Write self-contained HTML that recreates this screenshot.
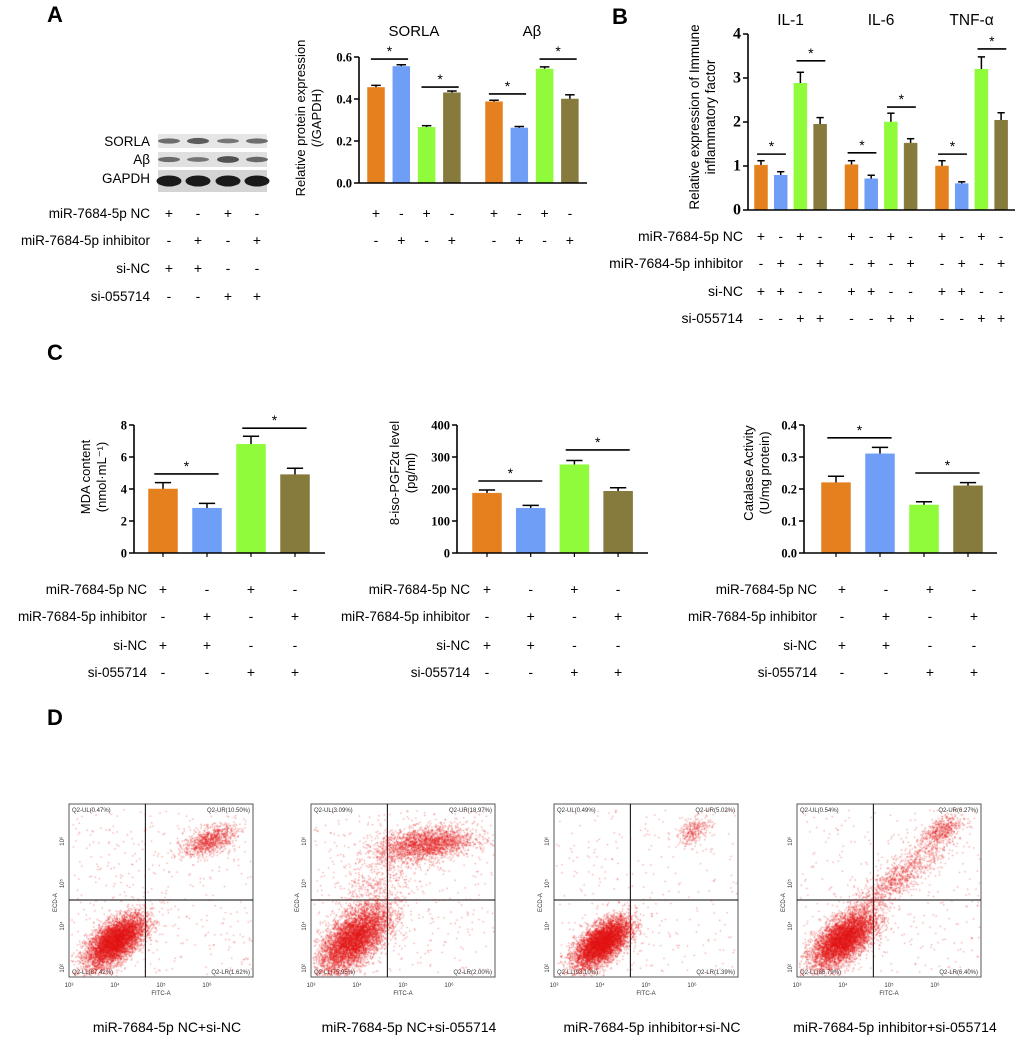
<!DOCTYPE html>
<html><head><meta charset="utf-8">
<style>
body{margin:0;background:#fff;}
#wrap{position:relative;width:1020px;height:1039px;overflow:hidden;font-family:"Liberation Sans",Arial,sans-serif;}
svg{position:absolute;left:0;top:0;}
canvas{position:absolute;}
</style></head>
<body>
<div id="wrap">
<svg id="s" width="1020" height="1039"></svg>
</div>
<script>
// ---------- DATA ----------
const COLORS=['#e5801f','#6f9ef7','#8ffb3b','#867a3d'];
const rowLabels=['miR-7684-5p NC','miR-7684-5p inhibitor','si-NC','si-055714'];
const signRows=[['+','-','+','-'],['-','+','-','+'],['+','+','-','-'],['-','-','+','+']];

const aCats=['SORLA','Aβ'];
const aVals=[[0.455,0.555,0.265,0.43],[0.387,0.262,0.543,0.40]];
const aErr=[[0.01,0.008,0.008,0.008],[0.007,0.007,0.01,0.02]];
const aTicks=[0,0.2,0.4,0.6];
const aTickLabels=['0.0','0.2','0.4','0.6'];
const aBrackets=[[0.59,0.457],[0.424,0.59]];

const bCats=['IL-1','IL-6','TNF-α'];
const bVals=[[1.02,0.79,2.88,1.95],[1.03,0.71,2.0,1.52],[1.0,0.6,3.2,2.04]];
const bErr=[[0.1,0.08,0.25,0.15],[0.09,0.08,0.2,0.1],[0.12,0.04,0.28,0.17]];
const bTicks=[0,1,2,3,4];
const bTickLabels=['0','1','2','3','4'];
const bBrackets=[[1.27,3.39],[1.30,2.34],[1.27,3.66]];

const c1Vals=[4.0,2.8,6.8,4.9];
const c1Err=[0.4,0.3,0.5,0.4];
const c1Ticks=[0,2,4,6,8];
const c1Brackets=[4.94,7.8];
const c2Vals=[187,140,276,193];
const c2Err=[10,9,13,11];
const c2Ticks=[0,100,200,300,400];
const c2Brackets=[225,322];
const c3Vals=[0.22,0.31,0.15,0.21];
const c3Err=[0.02,0.02,0.01,0.01];
const c3Ticks=[0,0.1,0.2,0.3,0.4];
const c3TickLabels=['0.0','0.1','0.2','0.3','0.4'];
const c3Brackets=[0.36,0.25];

const dCaptions=['miR-7684-5p  NC+si-NC','miR-7684-5p  NC+si-055714','miR-7684-5p  inhibitor+si-NC','miR-7684-5p  inhibitor+si-055714'];
const dUL=['Q2-UL(0.47%)','Q2-UL(3.09%)','Q2-UL(0.49%)','Q2-UL(0.54%)'];
const dUR=['Q2-UR(10.50%)','Q2-UR(18.97%)','Q2-UR(5.02%)','Q2-UR(6.27%)'];
const dLL=['Q2-LL(87.42%)','Q2-LL(75.95%)','Q2-LL(93.10%)','Q2-LL(86.79%)'];
const dLR=['Q2-LR(1.62%)','Q2-LR(2.00%)','Q2-LR(1.39%)','Q2-LR(6.40%)'];
// clusters: [cx, cy, sx, sy, corr, n] in relative box coords
const dClusters=[
 [[0.25,0.79,0.08,0.075,0.6,5500],[0.76,0.21,0.07,0.045,0.5,900],[0.5,0.5,0.3,0.3,0,400]],
 [[0.23,0.78,0.095,0.095,0.6,5200],[0.62,0.23,0.13,0.05,0.3,2200],[0.35,0.5,0.12,0.15,0.6,600],[0.5,0.5,0.3,0.3,0,450]],
 [[0.26,0.8,0.075,0.07,0.6,5800],[0.76,0.15,0.045,0.04,0.5,280],[0.5,0.5,0.3,0.3,0,300]],
 [[0.25,0.78,0.085,0.08,0.6,5400],[0.55,0.42,0.15,0.13,0.9,1100],[0.78,0.15,0.055,0.045,0.5,450],[0.5,0.5,0.3,0.3,0,350]]
];

// ---------- HELPERS ----------
const S=document.getElementById('s');
const NS='http://www.w3.org/2000/svg';
function mk(tag,attrs,name,inter,txt){
  const el=document.createElementNS(NS,tag);
  for(const k in attrs) el.setAttribute(k,attrs[k]);
  
  
  if(txt!==undefined) el.textContent=txt;
  S.appendChild(el);
  return el;
}
function text(x,y,t,name,size,anchor,extra){
  const a=Object.assign({x:x,y:y,'font-size':size,'text-anchor':anchor||'middle','font-family':'"Liberation Sans",Arial,sans-serif',fill:'#000'},extra||{});
  return mk('text',a,name,false,t);
}
function line(x1,y1,x2,y2,name,w){
  return mk('line',{x1:x1,y1:y1,x2:x2,y2:y2,stroke:'#000','stroke-width':w||1.5},name,false);
}

function barChart(c){
  const ys=v=>c.y0-(v/c.ymax)*(c.y0-c.ytop);
  const cx=(g,i)=>c.gStart+g*c.gStep+i*c.bStep;
  c.vals.forEach((grp,g)=>grp.forEach((v,i)=>{
    const x=cx(g,i);
    const top=ys(v+c.err[g][i]);
    line(x,ys(v),x,top,c.id+'-errorbar',1.5);
    line(x-c.bw*0.28,top,x+c.bw*0.28,top,c.id+'-errorcap',1.5);
    mk('rect',{x:x-c.bw/2,y:ys(v),width:c.bw,height:c.y0-ys(v),fill:COLORS[i],stroke:COLORS[i],'stroke-width':0.5},c.id+'-bar-'+g+'-'+i,false);
    if(c.xticks) line(x,c.y0,x,c.y0+4,c.id+'-x-tick',1.2);
  }));
  line(c.x0,c.y0,c.x1,c.y0,c.id+'-x-axis',1.6);
  line(c.x0,c.y0,c.x0,c.ytop,c.id+'-y-axis',1.6);
  c.ticks.forEach((t,k)=>{
    const y=ys(t);
    line(c.x0-5,y,c.x0,y,c.id+'-y-tick',1.5);
    text(c.x0-7,y+4.5,c.tickLabels[k],c.id+'-y-tick-label',c.tfs||13,'end',{'font-family':'"Liberation Serif",serif','font-weight':'bold'});
  });
  c.brackets.forEach((grp,g)=>grp.forEach((lv,p)=>{
    const xa=cx(g,p*2)-c.bw*0.3, xb=cx(g,p*2+1)+c.bw*0.4;
    const y=ys(lv);
    line(xa,y,xb,y,c.id+'-sig-bracket',1.6);
    text((xa+xb)/2,y-3,'*',c.id+'-sig-star',14,'middle');
  }));
  if(c.cats) c.cats.forEach((t,g)=>text((cx(g,0)+cx(g,3))/2,c.titleY,t,c.id+'-group-title',c.cfs||15,'middle'));
  c.signYs.forEach((yy,r)=>{
    c.vals.forEach((grp,g)=>grp.forEach((v,i)=>{
      text(cx(g,i)+(c.signDx||0),yy,signRows[r][i],c.id+'-sign',c.sfs||14,'middle');
    }));
  });
  if(c.rowX!==undefined) c.signYs.forEach((yy,r)=>text(c.rowX,yy,rowLabels[r],c.id+'-row-label',c.rfs||13.5,'end'));
  c.ylab.forEach((t,k)=>text(0,0,t,c.id+'-y-axis-title',c.yfs||13.5,'middle',{transform:'translate('+(c.ylabX+k*16)+','+c.ylabY+') rotate(-90)'}));
}

// ---------- PANEL LETTERS ----------
text(55,22,'A','panel-label-a',22,'middle',{'font-weight':'bold'});
text(620,24,'B','panel-label-b',22,'middle',{'font-weight':'bold'});
text(55,360,'C','panel-label-c',22,'middle',{'font-weight':'bold'});
text(55,725,'D','panel-label-d',22,'middle',{'font-weight':'bold'});

// ---------- WESTERN BLOT ----------
mk('rect',{x:158,y:134,width:109,height:14,fill:'#e6e6e6'},'blot-sorla-strip',false);
mk('rect',{x:158,y:152,width:109,height:15,fill:'#e0e0e0'},'blot-abeta-strip',false);
mk('rect',{x:158,y:170,width:109,height:22,fill:'#d4d4d4'},'blot-gapdh-strip',false);
const blotX=[169,198,228,257];
const sorlaI=[0.55,0.75,0.45,0.55], abI=[0.55,0.45,0.85,0.6];
blotX.forEach((x,i)=>{
  mk('ellipse',{cx:x,cy:141,rx:11,ry:2.5*sorlaI[i]+1.2,fill:'#333','fill-opacity':0.4+sorlaI[i]*0.5},'blot-band-sorla',false);
  mk('ellipse',{cx:x,cy:159.5,rx:11,ry:2.5*abI[i]+1.2,fill:'#333','fill-opacity':0.4+abI[i]*0.5},'blot-band-abeta',false);
  mk('ellipse',{cx:x,cy:181,rx:12.5,ry:5.5,fill:'#1a1a1a'},'blot-band-gapdh',false);
});
text(150,146,'SORLA','blot-label-sorla',13.5,'end');
text(150,164,'Aβ','blot-label-abeta',13.5,'end');
text(150,183,'GAPDH','blot-label-gapdh',13.5,'end');
[218,245,273,301].forEach((y,r)=>{
  text(150,y,rowLabels[r],'blot-row-label',13.5,'end');
  blotX.forEach((x,i)=>text(x,y,signRows[r][i],'blot-sign',14,'middle'));
});

// ---------- PANEL A CHART ----------
barChart({id:'a',vals:aVals,err:aErr,ymax:0.6,y0:183,ytop:57,x0:359,x1:587,gStart:376,gStep:118,bStep:25.3,bw:17,
  ticks:aTicks,tickLabels:aTickLabels,brackets:aBrackets,cats:aCats,titleY:36,signYs:[218,245],
  ylab:['Relative protein expression','(/GAPDH)'],ylabX:305,ylabY:118,yfs:13,tfs:12.5});

// ---------- PANEL B ----------
barChart({id:'b',vals:bVals,err:bErr,ymax:4,y0:210,ytop:34,x0:748,x1:1015,gStart:761,gStep:90.5,bStep:19.7,bw:13,
  ticks:bTicks,tickLabels:bTickLabels,brackets:bBrackets,cats:bCats,titleY:25,signYs:[241,268,296,323],
  rowX:743,rfs:14,sfs:14,tfs:16,cfs:15.5,
  ylab:['Relative expression of Immune','inflammatory factor'],ylabX:699,ylabY:117,yfs:13.5});

// ---------- PANEL C ----------
barChart({id:'c1',vals:[c1Vals],err:[c1Err],ymax:8,y0:553,ytop:425,x0:134,x1:325,gStart:163,gStep:0,bStep:44,bw:29,xticks:true,
  ticks:c1Ticks,tickLabels:c1Ticks.map(String),brackets:[c1Brackets],signYs:[594,621,650,677],rowX:147,rfs:13.5,tfs:12.5,
  ylab:['MDA content','(nmol·mL⁻¹)'],ylabX:90,ylabY:477,yfs:13});
barChart({id:'c2',vals:[c2Vals],err:[c2Err],ymax:400,y0:553,ytop:425,x0:457,x1:648,gStart:487,gStep:0,bStep:43.7,bw:29,xticks:true,
  ticks:c2Ticks,tickLabels:c2Ticks.map(String),brackets:[c2Brackets],signYs:[594,621,650,677],rowX:470,rfs:13.5,tfs:12.5,
  ylab:['8-iso-PGF2α level','(pg/ml)'],ylabX:399,ylabY:473,yfs:13});
barChart({id:'c3',vals:[c3Vals],err:[c3Err],ymax:0.4,y0:553,ytop:425,x0:804,x1:997,gStart:836,gStep:0,bStep:44,bw:29,xticks:true,signDx:6,
  ticks:c3Ticks,tickLabels:c3TickLabels,brackets:[c3Brackets],signYs:[594,621,650,677],rowX:817,rfs:13.5,tfs:12.5,
  ylab:['Catalase Activity','(U/mg protein)'],ylabX:753,ylabY:473,yfs:13});

// ---------- PANEL D (flow cytometry) ----------
const plotX=[69,311,554,797], PY=804, PW=184, PH=173;
let seed=12345;
function rnd(){seed=(seed*1103515245+12345)%2147483648;return seed/2147483648;}
function gauss(){let u=rnd()||1e-9,v=rnd();return Math.sqrt(-2*Math.log(u))*Math.cos(2*Math.PI*v);}
const wrap=document.getElementById('wrap');
plotX.forEach((px,p)=>{
  const cv=document.createElement('canvas');
  cv.width=PW;cv.height=PH;cv.style.left=px+'px';cv.style.top=PY+'px';
  
  
  wrap.appendChild(cv);
  const ctx=cv.getContext('2d');
  ctx.fillStyle='rgba(225,20,20,0.4)';
  dClusters[p].forEach(cl=>{
    const [cx,cy,sx,sy,corr,n]=cl;
    for(let k=0;k<n;k++){
      let x,y;
      if(corr===0&&sx>=0.3){x=rnd();y=rnd()*0.95+0.03;}
      else{const a=gauss(),b=gauss();x=cx+sx*a;y=cy-sy*(corr*a+Math.sqrt(1-corr*corr)*b);}
      if(x<0.01||x>0.99||y<0.01||y>0.99)continue;
      ctx.fillRect(x*PW,y*PH,1.3,1.3);
    }
  });
  mk('rect',{x:px,y:PY,width:PW,height:PH,fill:'none',stroke:'#555','stroke-width':1},'flow-plot-frame',false);
  const qx=px+PW*0.415, qy=PY+PH*0.555;
  line(qx,PY,qx,PY+PH,'flow-quadrant-vertical',1);
  line(px,qy,px+PW,qy,'flow-quadrant-horizontal',1);
  const f={'fill':'#333'};
  text(px+3,PY+8,dUL[p],'flow-ul-label',6,'start',f);
  text(px+PW-3,PY+8,dUR[p],'flow-ur-label',6,'end',f);
  text(px+3,PY+PH-3,dLL[p],'flow-ll-label',6,'start',f);
  text(px+PW-3,PY+PH-3,dLR[p],'flow-lr-label',6,'end',f);
  ['10³','10⁴','10⁵','10⁶'].forEach((t,k)=>{
    text(px+k*PW*0.25,PY+PH+10,t,'flow-x-tick-label',6,'middle',f);
    text(0,0,['10²','10⁴','10⁵','10⁶'][k],'flow-y-tick-label',6,'middle',Object.assign({transform:'translate('+(px-5)+','+(PY+PH*(0.95-k*0.245))+') rotate(-90)'},f));
  });
  text(px+PW*0.5,PY+PH+18,'FITC-A','flow-x-title',6,'middle',f);
  text(0,0,'ECD-A','flow-y-title',6,'middle',Object.assign({transform:'translate('+(px-12)+','+(PY+PH*0.57)+') rotate(-90)'},f));
  text(px+PW/2+6,1032,dCaptions[p],'flow-caption',14,'middle');
});
</script>
</body></html>
